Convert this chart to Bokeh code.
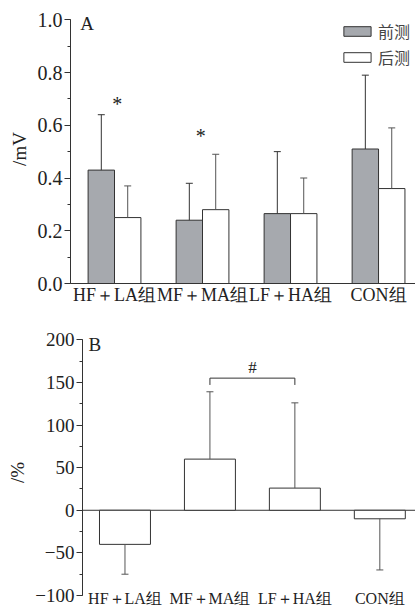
from bokeh.plotting import figure
from bokeh.models import (Range1d, FixedTicker, SingleIntervalTicker, Label, Legend, LegendItem,
                          ColumnDataSource, PrintfTickFormatter)
from bokeh.embed import file_html
from bokeh.resources import INLINE

groups = ["HF＋LA组", "MF＋MA组", "LF＋HA组", "CON组"]
pre_mean = [0.43, 0.24, 0.265, 0.51]
pre_sd = [0.21, 0.14, 0.235, 0.28]
post_mean = [0.25, 0.28, 0.265, 0.36]
post_sd = [0.12, 0.21, 0.135, 0.23]
change_mean = [-40, 60, 26, -10]
change_sd = [35, 79, 100, 60]
legend_labels = ["前测", "后测"]

SERIF = "Liberation Serif"
DARK = "#333333"
GRAY = "#a6a9ae"
X_END = 3.92

centers = [i + 0.5 for i in range(len(groups))]

def style_y(ax, interval, fmt, label, size, standoff):
    ax.ticker = SingleIntervalTicker(interval=interval, num_minor_ticks=2)
    ax.formatter = PrintfTickFormatter(format=fmt)
    ax.major_label_text_font = SERIF
    ax.major_label_text_font_size = size
    ax.major_label_text_color = "#222222"
    ax.major_label_standoff = 2
    ax.major_tick_out = 6
    ax.major_tick_in = 0
    ax.minor_tick_out = 3
    ax.minor_tick_in = 0
    ax.axis_line_color = DARK
    ax.major_tick_line_color = DARK
    ax.minor_tick_line_color = DARK
    ax.axis_label = label
    ax.axis_label_text_font = SERIF
    ax.axis_label_text_font_size = "19px"
    ax.axis_label_text_font_style = "normal"
    ax.axis_label_text_color = "#222222"
    ax.axis_label_standoff = standoff

def errbars(p, xs, means, sds, color):
    tops = [m + (s if m >= 0 else -s) for m, s in zip(means, sds)]
    src = ColumnDataSource(dict(x=xs, y0=means, y1=tops))
    p.segment(x0="x", y0="y0", x1="x", y1="y1", source=src, line_color=color, line_width=1)
    p.scatter(x="x", y="y1", source=src, marker="dash", size=7, line_color=color, line_width=1)

def txt(x, y, t, size, **kw):
    return Label(x=x, y=y, text=t, text_font=SERIF, text_font_size=size,
                 text_color="#222222", **kw)

# ---------- Panel A ----------
pa = figure(width=415, height=310, x_range=Range1d(0, X_END), y_range=Range1d(0, 1.02),
            output_backend="svg", toolbar_location=None,
            min_border_left=70, min_border_right=0, min_border_top=14, min_border_bottom=27)
pa.outline_line_color = None
pa.grid.visible = False
style_y(pa.yaxis[0], 0.2, "%.1f", "/mV", "20px", 5)
pa.yaxis[0].bounds = (0, 1.0)

xa = pa.xaxis[0]
xa.ticker = FixedTicker(ticks=centers)
xa.major_label_overrides = {c: g for c, g in zip(centers, groups)}
xa.major_label_text_font = SERIF
xa.major_label_text_font_size = "18px"
xa.major_label_text_color = "#222222"
xa.major_label_standoff = 1
xa.major_tick_out = 0
xa.major_tick_in = 0
xa.minor_tick_out = 0
xa.minor_tick_in = 0
xa.axis_line_color = DARK

x_pre = [c - 0.15 for c in centers]
x_post = [c + 0.15 for c in centers]
r_pre = pa.vbar(x=x_pre, top=pre_mean, bottom=0, width=0.3, fill_color=GRAY, line_color=DARK, line_width=1)
r_post = pa.vbar(x=x_post, top=post_mean, bottom=0, width=0.3, fill_color="white", line_color=DARK, line_width=1)
errbars(pa, x_pre, pre_mean, pre_sd, DARK)
errbars(pa, x_post, post_mean, post_sd, "#555555")

leg = Legend(items=[LegendItem(label=legend_labels[0], renderers=[r_pre]),
                    LegendItem(label=legend_labels[1], renderers=[r_post])],
             location="top_right", border_line_color=None, background_fill_alpha=0,
             margin=5, padding=2, spacing=2, glyph_width=34, glyph_height=12,
             label_standoff=4, label_text_font_size="16px", label_height=12,
             label_text_font="Noto Sans CJK SC")
pa.add_layout(leg)

pa.add_layout(txt(0.11, 0.985, "A", "19px", text_baseline="middle"))
pa.add_layout(txt(0.53, 0.68, "*", "20px", text_baseline="middle", text_align="center"))
pa.add_layout(txt(1.48, 0.56, "*", "20px", text_baseline="middle", text_align="center"))

# ---------- Panel B ----------
pb = figure(width=415, height=299, x_range=Range1d(0, X_END), y_range=Range1d(-116.4, 205),
            output_backend="svg", toolbar_location=None, x_axis_location=None,
            min_border_left=82, min_border_right=0, min_border_top=25, min_border_bottom=0)
pb.outline_line_color = None
pb.grid.visible = False
yb = pb.yaxis[0]
style_y(yb, 50, "%d", "/%", "19px", 4)
yb.bounds = (-100, 200)
yb.major_label_overrides = {-100: "−100", -50: "−50"}

pb.segment(x0=0, y0=0, x1=X_END, y1=0, line_color=DARK, line_width=1)
pb.vbar(x=centers, top=change_mean, bottom=0, width=0.6, fill_color="white", line_color=DARK, line_width=1)
errbars(pb, centers, change_mean, change_sd, "#555555")

# significance bracket between MF and LF groups
bx0, bx1, by, bleg = centers[1], centers[2], 155, 147
pb.line(x=[bx0, bx0, bx1, bx1], y=[bleg, by, by, bleg], line_color=DARK, line_width=1)
pb.add_layout(txt((bx0 + bx1) / 2, 167, "#", "17px", text_baseline="middle", text_align="center"))
pb.add_layout(txt(0.07, 194, "B", "19px", text_baseline="middle"))
for c, g in zip(centers, groups):
    pb.add_layout(txt(c, -100, g, "16px", text_baseline="top", text_align="center", y_offset=6))

open("out.html", "w").write(file_html([pa, pb], INLINE))
